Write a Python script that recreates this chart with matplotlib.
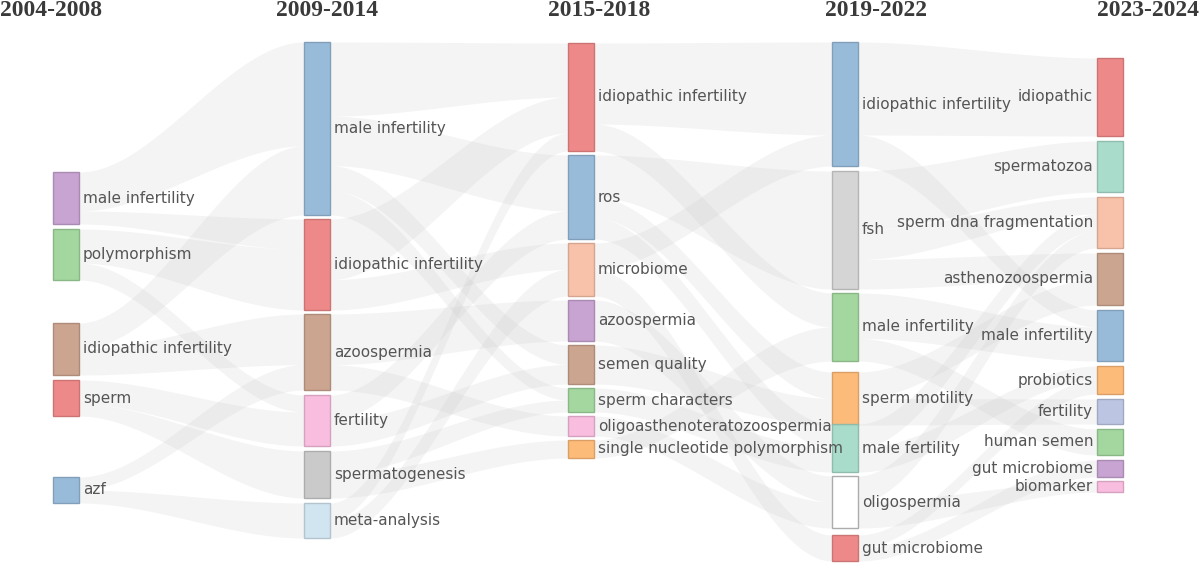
import numpy as np
import matplotlib
matplotlib.use('Agg')
import matplotlib.pyplot as plt
from matplotlib.patches import Rectangle

# periods and keywords (top to bottom)
periods = ['2004-2008', '2009-2014', '2015-2018', '2019-2022', '2023-2024']

keywords = [
    ['male infertility', 'polymorphism', 'idiopathic infertility', 'sperm', 'azf'],
    ['male infertility', 'idiopathic infertility', 'azoospermia', 'fertility',
     'spermatogenesis', 'meta-analysis'],
    ['idiopathic infertility', 'ros', 'microbiome', 'azoospermia', 'semen quality',
     'sperm characters', 'oligoasthenoteratozoospermia', 'single nucleotide polymorphism'],
    ['idiopathic infertility', 'fsh', 'male infertility', 'sperm motility',
     'male fertility', 'oligospermia', 'gut microbiome'],
    ['idiopathic', 'spermatozoa', 'sperm dna fragmentation', 'asthenozoospermia',
     'male infertility', 'probiotics', 'fertility', 'human semen', 'gut microbiome',
     'biomarker'],
]

# keyword weight (node height)
weights = [
    [52, 51, 52, 36, 26],
    [173, 91, 76, 51, 47, 35],
    [108, 84, 53, 41, 39, 24, 20, 18],
    [124, 118, 68, 53, 48, 52, 26],
    [78, 51, 51, 52, 51, 28, 25, 26, 17, 11],
]

# links: (period, source keyword, target keyword in next period, weight)
links = [
    (0, 0, 0, 3), (0, 0, 1, 1), (0, 1, 1, 2), (0, 1, 3, 1), (0, 2, 0, 2),
    (0, 2, 2, 2), (0, 3, 3, 2), (0, 3, 4, 1), (0, 4, 5, 1), (0, 4, 2, 1),
    (1, 0, 0, 3), (1, 0, 1, 2), (1, 0, 4, 1), (1, 0, 5, 1), (1, 1, 0, 2),
    (1, 1, 2, 1), (1, 2, 3, 2), (1, 2, 6, 1), (1, 3, 4, 1), (1, 3, 1, 1),
    (1, 4, 5, 1), (1, 4, 7, 1), (1, 5, 2, 1), (1, 5, 0, 1),
    (2, 0, 0, 3), (2, 0, 2, 1), (2, 1, 1, 2), (2, 1, 4, 1), (2, 2, 6, 1),
    (2, 2, 0, 1), (2, 3, 5, 1), (2, 4, 3, 1), (2, 5, 4, 1), (2, 6, 5, 1),
    (2, 7, 2, 1), (2, 1, 3, 1),
    (3, 0, 0, 3), (3, 0, 4, 1), (3, 1, 1, 2), (3, 1, 3, 1), (3, 2, 4, 2),
    (3, 2, 7, 1), (3, 3, 3, 1), (3, 3, 6, 1), (3, 4, 2, 1), (3, 4, 5, 1),
    (3, 5, 2, 1), (3, 5, 9, 1), (3, 6, 8, 1), (3, 6, 5, 1), (3, 1, 2, 1),
]

# layout (pixels)
col_x = [53, 304, 568, 832, 1097]
node_w = 26
node_top = [
    [172, 229, 323, 380, 477],
    [42, 219, 314, 395, 451, 503],
    [43, 155, 243, 300, 345, 388, 416, 440],
    [42, 171, 293, 372, 424, 476, 535],
    [58, 141, 197, 253, 310, 366, 399, 429, 460, 481],
]
head_x = [51, 327, 599, 876, 1148]

red, blue, brown = '#ee8383', '#94b8d8', '#c9a08a'
purple, green, orange = '#c49fcf', '#9fd59b', '#fdb873'
pink, salmon = '#f8bade', '#f8bfa6'
node_colors = [
    [purple, green, brown, red, blue],
    [blue, red, brown, pink, '#c8c8c8', '#cfe4f0'],
    [red, blue, salmon, purple, brown, green, pink, orange],
    [blue, '#d3d3d3', green, orange, '#a5dbc9', '#ffffff', red],
    [red, '#a5dbc9', salmon, brown, blue, orange, '#b9c3e1', green, purple, pink],
]

fig = plt.figure(figsize=(12, 5.8), dpi=100)
ax = fig.add_axes([0, 0, 1, 1])
ax.set_xlim(0, 1200)
ax.set_ylim(580, 0)
ax.axis('off')

# band offsets inside each node
out_tot = {}
in_tot = {}
for c, s, t, w in links:
    out_tot[(c, s)] = out_tot.get((c, s), 0) + w
    in_tot[(c + 1, t)] = in_tot.get((c + 1, t), 0) + w
out_off = {}
in_off = {}
order_out = sorted(range(len(links)), key=lambda i: (links[i][0], links[i][1], links[i][2]))
order_in = sorted(range(len(links)), key=lambda i: (links[i][0], links[i][2], links[i][1]))
y0s = {}
y1s = {}
for i in order_out:
    c, s, t, w = links[i]
    h = weights[c][s] * w / out_tot[(c, s)]
    off = out_off.get((c, s), 0)
    y0s[i] = (node_top[c][s] + off, node_top[c][s] + off + h)
    out_off[(c, s)] = off + h
for i in order_in:
    c, s, t, w = links[i]
    h = weights[c + 1][t] * w / in_tot[(c + 1, t)]
    off = in_off.get((c + 1, t), 0)
    y1s[i] = (node_top[c + 1][t] + off, node_top[c + 1][t] + off + h)
    in_off[(c + 1, t)] = off + h

tt = np.linspace(0, 1, 80)
ease = 3 * tt ** 2 - 2 * tt ** 3
for i, (c, s, t, w) in enumerate(links):
    xa = col_x[c] + node_w
    xb = col_x[c + 1]
    xs = xa + (xb - xa) * tt
    top = y0s[i][0] + (y1s[i][0] - y0s[i][0]) * ease
    bot = y0s[i][1] + (y1s[i][1] - y0s[i][1]) * ease
    ax.fill_between(xs, top, bot, color='#c8c8c8', alpha=0.2, lw=0, zorder=1)

# nodes + labels
for c in range(len(periods)):
    for k, name in enumerate(keywords[c]):
        col = node_colors[c][k]
        ec = '#a8a8a8' if col == '#ffffff' else tuple(v * 0.85 for v in matplotlib.colors.to_rgb(col))
        ax.add_patch(Rectangle((col_x[c], node_top[c][k]), node_w, weights[c][k],
                               facecolor=col, edgecolor=ec, lw=1, alpha=0.95, zorder=3))
        yc = node_top[c][k] + weights[c][k] / 2
        if c == len(periods) - 1:
            ax.text(col_x[c] - 4, yc, name, ha='right', va='center', fontsize=11,
                    color='#555555', family='DejaVu Sans', zorder=4)
        else:
            ax.text(col_x[c] + node_w + 4, yc, name, ha='left', va='center', fontsize=11,
                    color='#555555', family='DejaVu Sans', zorder=4)
    ax.text(head_x[c], 11, periods[c], ha='center', va='center', fontsize=17,
            fontweight='bold', color='#3a3a3a', family='Liberation Serif')

fig.savefig('out.png', dpi=100)
